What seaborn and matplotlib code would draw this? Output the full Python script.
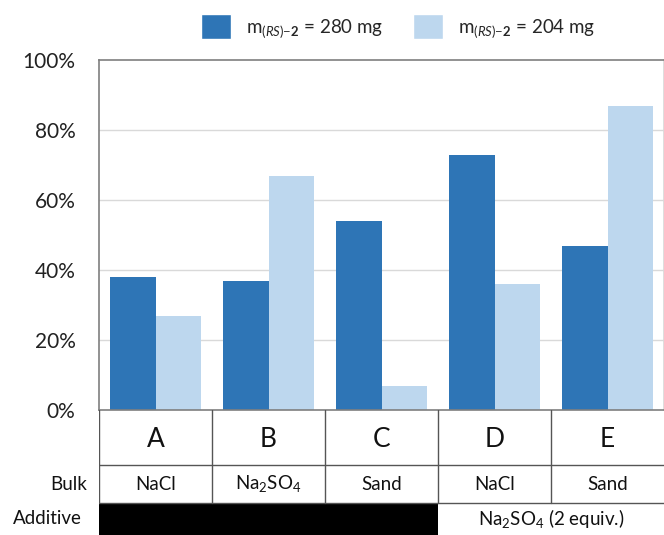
import matplotlib
matplotlib.use("Agg")
import matplotlib.pyplot as plt
import seaborn as sns
import pandas as pd
from matplotlib.patches import Patch, Rectangle
from matplotlib.ticker import PercentFormatter

categories = ["A", "B", "C", "D", "E"]
series_280 = [38, 37, 54, 73, 47]
series_204 = [27, 67, 7, 36, 87]
series_names = [r"m$_{(\mathit{RS})\mathrm{-}\mathbf{2}}$ = 280 mg",
                r"m$_{(\mathit{RS})\mathrm{-}\mathbf{2}}$ = 204 mg"]
bulk_labels = ["NaCl", r"Na$_2$SO$_4$", "Sand", "NaCl", "Sand"]
additive_label = r"Na$_2$SO$_4$ (2 equiv.)"
y_ticks = [0, 20, 40, 60, 80, 100]

sns.set_theme(style="white")
font = "Lato"
plt.rcParams["font.family"] = [font, "DejaVu Sans"]
plt.rcParams["mathtext.fontset"] = "custom"
plt.rcParams["mathtext.rm"] = font
plt.rcParams["mathtext.it"] = font + ":italic"
plt.rcParams["mathtext.bf"] = font + ":bold"

colors = ["#2E75B6", "#BDD7EE"]

df = pd.DataFrame({
    "cat": categories * 2,
    "value": series_280 + series_204,
    "series": [series_names[0]] * 5 + [series_names[1]] * 5,
})

W, H = 664, 535
fig = plt.figure(figsize=(W / 100, H / 100), dpi=100)
x0, x1 = 99, 664
ytop, ybot = 60, 410
ax = fig.add_axes([x0 / W, (H - ybot) / H, (x1 - x0) / W, (ybot - ytop) / H])

sns.barplot(data=df, x="cat", y="value", hue="series", palette=colors,
            saturation=1, ax=ax, legend=False, width=0.8, linewidth=0, edgecolor="none")
ax.set_xlim(-0.5, 4.5)
ax.set_ylim(0, 100)
ax.set_yticks(y_ticks)
ax.yaxis.set_major_formatter(PercentFormatter(decimals=0))
ax.tick_params(axis="y", labelsize=15, colors="#222222", length=0, pad=17)
ax.set_xticks([])
ax.set_xlabel("")
ax.set_ylabel("")
for yv in y_ticks[1:-1]:
    ax.axhline(yv, color="#D9D9D9", lw=1, zorder=0)
for s in ["left", "bottom", "top"]:
    ax.spines[s].set_color("#7F7F7F")
    ax.spines[s].set_linewidth(1.2)
ax.spines["right"].set_color("#D9D9D9")

# table area
tax = fig.add_axes([x0 / W, 0, (x1 - x0) / W, (H - ybot) / H])
tax.set_xlim(-0.5, 4.5)
tax.set_ylim(0, H - ybot)
tax.axis("off")
r1, r2 = H - 465, H - 503  # 70, 32
line_kw = dict(color="#555555", lw=1)
tax.plot([-0.5, 4.5], [r1, r1], **line_kw)
tax.plot([-0.5, 4.5], [r2, r2], **line_kw)
for xb in [-0.5, 0.5, 1.5, 2.5, 3.5]:
    tax.plot([xb, xb], [r2, H - ybot], **line_kw)
for i, c in enumerate(categories):
    tax.text(i, (r1 + H - ybot) / 2 - 2, c, ha="center", va="center", fontsize=19, color="#111111")
    tax.text(i, (r1 + r2) / 2, bulk_labels[i], ha="center", va="center", fontsize=13.5, color="#111111")
tax.add_patch(Rectangle((-0.5, 0), 3, r2, color="black", lw=0))
tax.text(3.5, r2 / 2, additive_label, ha="center", va="center", fontsize=13.5, color="#111111")
fig.text(87 / W, (r1 + r2) / 2 / H, "Bulk", ha="right", va="center", fontsize=13.5, color="#111111")
fig.text(82 / W, (r2 / 2) / H, "Additive", ha="right", va="center", fontsize=13.5, color="#111111")

handles = [Patch(facecolor=colors[0]), Patch(facecolor=colors[1])]
fig.legend(handles, series_names, loc="center", bbox_to_anchor=(398 / W, (H - 27) / H),
           ncol=2, frameon=False, fontsize=13.5, handlelength=1.6, handleheight=1.6,
           columnspacing=1.6, handletextpad=0.8)

fig.savefig("out.png", dpi=100)
